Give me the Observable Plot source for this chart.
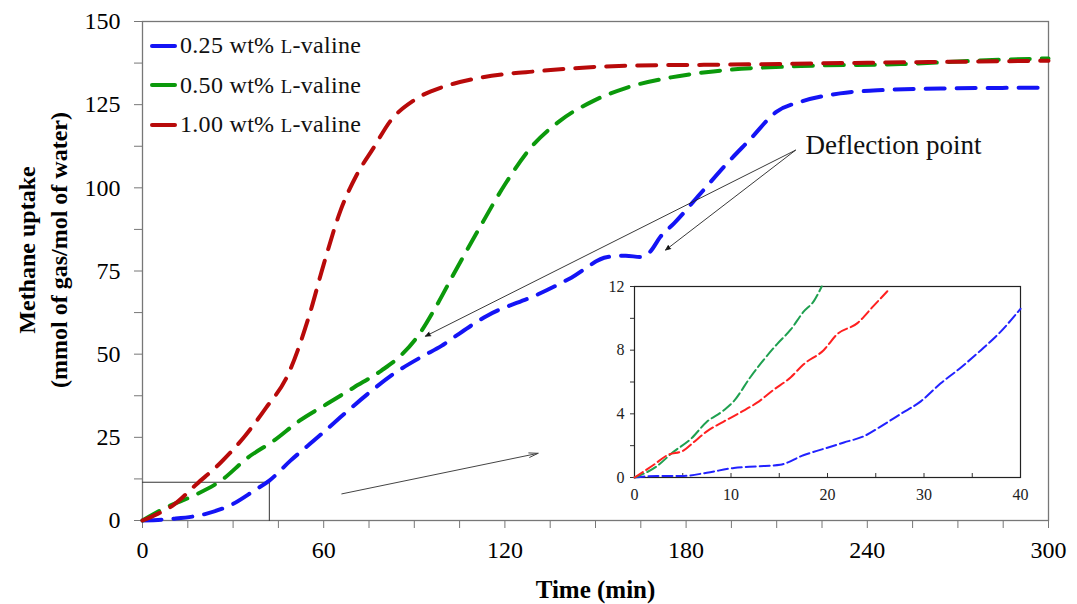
<!DOCTYPE html>
<html>
<head>
<meta charset="utf-8">
<script src="https://cdn.jsdelivr.net/npm/d3@7"></script>
<script src="https://cdn.jsdelivr.net/npm/@observablehq/plot@0.6"></script>
<style>
  body { margin: 0; background: #fff; }
  #chart { position: relative; width: 1077px; height: 604px; font-family: "Liberation Serif", "Times New Roman", serif; }
  #chart svg { position: absolute; }
  #legend { position: absolute; left: 150px; top: 26px; font-size: 24px; letter-spacing: 0.3px; color: #111; }
  #legend .row { height: 39.5px; display: flex; align-items: center; white-space: nowrap; }
  #legend .swatch { display: inline-block; width: 27px; height: 4px; border-radius: 2px; margin-right: 3px; }
  #legend .sc { font-size: 0.78em; }
  #ytitle { position: absolute; left: -157px; top: 218px; width: 400px; height: 64px;
            transform: rotate(-90deg); transform-origin: 200px 32px;
            text-align: center; font-weight: bold; font-size: 24px; line-height: 32px; color: #000; }
</style>
</head>
<body>
<div id="chart"></div>
<script>
// Methane uptake (mmol of gas / mol of water) versus time (min), one series per L-valine dose
const valine025 = [
  [0, 0], [10, 0.5], [21, 2], [30, 5], [37, 9], [42, 12], [49, 18], [58, 25], [65.5, 31],
  [74.5, 38], [83, 44], [93, 49.5], [99, 52.5], [103, 55], [114, 61.5], [131, 68], [142, 73],
  [154, 79.2], [160, 79.6], [165, 79.2], [168, 80.7], [171.5, 85.3], [176, 89.3], [184, 97.5],
  [193.5, 107.3], [201, 114.4], [210, 122.9], [218, 125.9], [231, 128.4], [245.5, 129.4],
  [267.5, 129.9], [300, 130.1]
];
const valine050 = [
  [0, 0], [8, 4], [17, 7.5], [26, 12], [35, 19], [43.5, 24], [52, 30], [61, 35], [70, 40],
  [79, 45], [86, 50], [92, 56.5], [97, 64], [103, 74], [111, 87], [120, 101], [128.5, 112],
  [138, 120], [149, 126], [160, 130], [175, 133.2], [189, 135], [218, 136.6], [251, 137.2],
  [284, 138.5], [300, 138.9]
];
const valine100 = [
  [0, 0], [5, 2], [10, 4.5], [18, 11], [26, 17.5], [34, 25.5], [41, 34], [48, 43.5], [55, 61],
  [60, 77], [65.5, 93], [71, 104], [76.5, 112], [82, 120], [90, 126.4], [99, 130.2], [103, 131.3],
  [110, 132.8], [120, 134.2], [130, 135], [142, 135.9], [164, 136.8], [190, 137], [240, 137.6],
  [270, 137.9], [300, 138.2]
];

// First 40 minutes, enlarged in the inset
const insetValine025 = [
  [0, 0], [2.3, 0.1], [5.1, 0.1], [7.5, 0.3], [10.3, 0.6], [12.7, 0.7], [15.1, 0.8], [17.5, 1.4],
  [19.6, 1.8], [21.7, 2.2], [23.8, 2.6], [25.5, 3.2], [27.6, 4], [29.7, 4.8], [31.7, 5.9],
  [33.8, 6.9], [35.9, 8], [38, 9.2], [40, 10.6]
];
const insetValine050 = [
  [0, 0], [2.3, 0.7], [4, 1.6], [5.8, 2.4], [7.5, 3.5], [9.2, 4.2], [10.3, 4.8], [12, 6.3],
  [13.4, 7.4], [14.8, 8.4], [16.2, 9.3], [17.5, 10.4], [18.6, 11.1], [19.4, 12]
];
const insetValine100 = [
  [0, 0], [2, 0.8], [3.4, 1.4], [5.1, 1.7], [6.1, 2.2], [7.5, 2.9], [9.2, 3.5], [11, 4.1],
  [12.7, 4.7], [14.4, 5.5], [16.2, 6.3], [17.5, 7.1], [19.6, 8], [21, 9], [23.1, 9.7],
  [24.8, 10.8], [26.2, 11.7]
];

const seriesLabels = ["0.25 wt%", "0.50 wt%", "1.00 wt%"];
const mainColors = ["#1414f5", "#0b990b", "#b80a0a"];
const insetColors = ["#2222ff", "#1fa050", "#ff2020"];

const xTicks = d3.range(0, 301, 15);
const yTicks = d3.range(0, 151, 12.5);
const insetXTicks = d3.range(0, 41, 5);
const insetYTicks = d3.range(0, 13, 2);

const xTitle = "Time (min)";
const yTitle = ["Methane uptake", "(mmol of gas/mol of water)"];

// Annotations: zoomed-region outline, pointer to the inset, and the deflection callouts
const zoomBox = [[0, 11.5], [42, 11.5], [42, 0]];
const insetPointer = [{x1: 66, y1: 8, x2: 131, y2: 20.2}];
const deflectionLabel = [{x: 219.5, y: 112.8, text: "Deflection point"}];
const deflectionArrows = [
  {x1: 216.2, y1: 111.3, x2: 93.7, y2: 55.4},
  {x1: 216.2, y1: 111.3, x2: 173.2, y2: 81.3}
];

const fontFamily = "'Liberation Serif', 'Times New Roman', serif";
const pt = d => ({t: d[0], u: d[1]});
const dashed = color => ({x: "t", y: "u", stroke: color, strokeWidth: 4, strokeDasharray: "19,12", strokeLinecap: "round", curve: "monotone-x"});
const fineDashed = color => ({x: "t", y: "u", stroke: color, strokeWidth: 2, strokeDasharray: "10,4", curve: "monotone-x"});

const main = Plot.plot({
  width: 1077,
  height: 604,
  marginLeft: 142,
  marginRight: 29,
  marginTop: 21,
  marginBottom: 84,
  x: {domain: [0, 300]},
  y: {domain: [0, 150]},
  style: {fontFamily, fontSize: "24px", color: "#000", background: "transparent", overflow: "visible"},
  marks: [
    Plot.axisX({ticks: xTicks, tickFormat: d => d % 60 === 0 ? d : "", tickSize: 8, tickPadding: 12, stroke: "#777", label: null}),
    Plot.axisY({ticks: yTicks, tickFormat: d => d % 25 === 0 ? d : "", tickSize: 8, tickPadding: 14, stroke: "#777", label: null}),
    Plot.frame({stroke: "#777", strokeWidth: 1.3}),
    Plot.line(zoomBox, {x: d => d[0], y: d => d[1], stroke: "#333", strokeWidth: 1}),
    Plot.arrow(insetPointer, {x1: "x1", y1: "y1", x2: "x2", y2: "y2", stroke: "#444", strokeWidth: 1, headLength: 14, headAngle: 28}),
    Plot.line(valine025.map(pt), dashed(mainColors[0])),
    Plot.line(valine050.map(pt), dashed(mainColors[1])),
    Plot.line(valine100.map(pt), dashed(mainColors[2])),
    Plot.arrow(deflectionArrows, {x1: "x1", y1: "y1", x2: "x2", y2: "y2", stroke: "#222", fill: "#000", strokeWidth: 0.9, headLength: 9, headAngle: 45}),
    Plot.text(deflectionLabel, {x: "x", y: "y", text: "text", textAnchor: "start", fontSize: 27, fill: "#111"}),
    Plot.text([xTitle], {frameAnchor: "bottom", dy: 69, lineAnchor: "middle", fontWeight: "bold", fontSize: 25})
  ]
});
main.style.left = "0px";
main.style.top = "0px";

const inset = Plot.plot({
  width: 440,
  height: 230,
  marginLeft: 34,
  marginRight: 20,
  marginTop: 10,
  marginBottom: 29,
  x: {domain: [0, 40]},
  y: {domain: [0, 12]},
  style: {fontFamily, fontSize: "16px", color: "#222", background: "transparent", overflow: "visible"},
  marks: [
    Plot.axisX({ticks: insetXTicks, tickSize: -4, tickFormat: () => "", stroke: "#333", label: null}),
    Plot.axisX({ticks: insetXTicks.filter(d => d % 10 === 0), tickSize: 0, tickPadding: 11, label: null}),
    Plot.axisY({ticks: insetYTicks, tickFormat: d => d % 4 === 0 ? d : "", tickSize: 4, tickPadding: 6, stroke: "#333", label: null}),
    Plot.frame({stroke: "#222", strokeWidth: 1.2}),
    Plot.line(insetValine025.map(pt), fineDashed(insetColors[0])),
    Plot.line(insetValine050.map(pt), fineDashed(insetColors[1])),
    Plot.line(insetValine100.map(pt), fineDashed(insetColors[2]))
  ]
});
inset.style.left = "600px";
inset.style.top = "276px";

const chart = document.getElementById("chart");
chart.appendChild(main);
chart.appendChild(inset);

// Y-axis title, two lines, rotated
const ytitle = document.createElement("div");
ytitle.id = "ytitle";
ytitle.innerHTML = yTitle.join("<br>");
chart.appendChild(ytitle);

// Legend
const legend = document.createElement("div");
legend.id = "legend";
seriesLabels.forEach((label, i) => {
  const row = document.createElement("div");
  row.className = "row";
  const sw = document.createElement("span");
  sw.className = "swatch";
  sw.style.background = mainColors[i];
  row.appendChild(sw);
  const txt = document.createElement("span");
  txt.innerHTML = label + " <span class=\"sc\">L</span>-valine";
  row.appendChild(txt);
  legend.appendChild(row);
});
chart.appendChild(legend);
</script>
</body>
</html>
